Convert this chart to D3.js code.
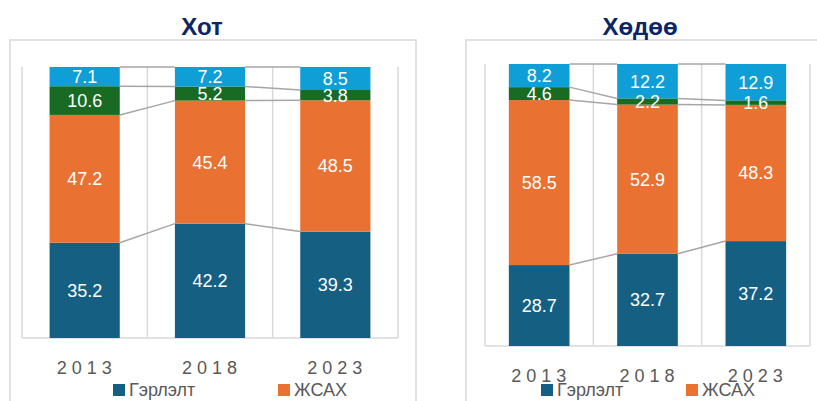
<!DOCTYPE html>
<html>
<head>
<meta charset="utf-8">
<script src="https://cdn.jsdelivr.net/npm/d3@7"></script>
<style>
  body { margin: 0; background: #fff; }
  svg { font-family: "Liberation Sans", Arial, sans-serif; }
</style>
</head>
<body>
<svg width="817" height="401"></svg>
<script>
// data
const years = ['2013', '2018', '2023'];
const seriesNames = ['Гэрлэлт', 'ЖСАХ', 'Салсан', 'Бэлэвсэн'];
const colors = ['#156082', '#E97132', '#196B24', '#0F9ED5'];

const hotMarried = [35.2, 42.2, 39.3];
const hotCohab = [47.2, 45.4, 48.5];
const hotGreen = [10.6, 5.2, 3.8];
const hotBlue = [7.1, 7.2, 8.5];

const hodooMarried = [28.7, 32.7, 37.2];
const hodooCohab = [58.5, 52.9, 48.3];
const hodooGreen = [4.6, 2.2, 1.6];
const hodooBlue = [8.2, 12.2, 12.9];

const svg = d3.select('svg');

function drawPanel(cfg) {
  const g = svg.append('g');
  const rows = years.map((y, i) => {
    const r = {year: y};
    cfg.values.forEach((arr, k) => r[seriesNames[k]] = arr[i]);
    return r;
  });
  const stacked = d3.stack().keys(seriesNames).offset(d3.stackOffsetExpand)(rows);

  const x = d3.scaleBand().domain(years).range(cfg.xr).paddingInner(0.44).paddingOuter(0.22);
  const y = d3.scaleLinear().domain([0, 1]).range(cfg.yr);

  // outer box
  g.append('rect')
    .attr('x', cfg.box[0]).attr('y', cfg.box[1])
    .attr('width', cfg.box[2]).attr('height', cfg.box[3])
    .attr('fill', 'none').attr('stroke', '#d9d9d9').attr('stroke-width', 1.5);

  // title
  g.append('text')
    .attr('x', cfg.titleX).attr('y', 35)
    .attr('text-anchor', 'middle')
    .attr('font-size', 24).attr('font-weight', 'bold')
    .attr('fill', '#0B2565')
    .text(cfg.title);

  // vertical gridlines at category boundaries
  d3.range(years.length + 1).forEach(i => {
    const gx = x.range()[0] + i * x.step();
    g.append('line')
      .attr('x1', gx).attr('x2', gx)
      .attr('y1', cfg.yr[1]).attr('y2', cfg.yr[0])
      .attr('stroke', '#d9d9d9').attr('stroke-width', 1.5);
  });
  g.append('line')
    .attr('x1', cfg.xr[0]).attr('x2', cfg.xr[1])
    .attr('y1', cfg.yr[0]).attr('y2', cfg.yr[0])
    .attr('stroke', '#d9d9d9').attr('stroke-width', 1.5);

  // bars
  stacked.forEach((s, k) => {
    g.selectAll('.bar' + k)
      .data(s)
      .enter()
      .append('rect')
      .attr('x', d => x(d.data.year))
      .attr('width', x.bandwidth())
      .attr('y', d => y(d[1]))
      .attr('height', d => y(d[0]) - y(d[1]))
      .attr('fill', colors[k]);
  });

  // series lines
  stacked.forEach(s => {
    for (let i = 0; i < s.length - 1; i++) {
      g.append('line')
        .attr('x1', x(years[i]) + x.bandwidth())
        .attr('x2', x(years[i + 1]))
        .attr('y1', y(s[i][1]))
        .attr('y2', y(s[i + 1][1]))
        .attr('stroke', '#a6a6a6').attr('stroke-width', 1.5);
    }
  });

  // labels
  stacked.forEach((s, k) => {
    g.selectAll('.lbl' + k)
      .data(s)
      .enter()
      .append('text')
      .attr('x', d => x(d.data.year) + x.bandwidth() / 2)
      .attr('y', d => (y(d[0]) + y(d[1])) / 2)
      .attr('dy', '0.36em')
      .attr('text-anchor', 'middle')
      .attr('font-size', 18)
      .attr('fill', '#fff')
      .text(d => d.data[seriesNames[k]].toFixed(1));
  });

  // category labels
  g.selectAll('.yr')
    .data(years)
    .enter()
    .append('text')
    .attr('x', d => x(d) + x.bandwidth() / 2 + 2)
    .attr('y', cfg.yearY)
    .attr('text-anchor', 'middle')
    .attr('font-size', 18)
    .attr('letter-spacing', 5)
    .attr('fill', '#595959')
    .text(d => d);

  // legend (only first row visible)
  cfg.legend.forEach((lx, k) => {
    g.append('rect')
      .attr('x', lx).attr('y', cfg.legendY - 12)
      .attr('width', 12).attr('height', 12)
      .attr('fill', colors[k]);
    g.append('text')
      .attr('x', lx + 16).attr('y', cfg.legendY)
      .attr('font-size', 18)
      .attr('fill', '#595959')
      .text(seriesNames[k]);
  });
}

drawPanel({
  title: 'Хот', titleX: 202,
  values: [hotMarried, hotCohab, hotGreen, hotBlue],
  xr: [22, 398], yr: [338, 67],
  box: [10, 40, 406, 400],
  yearY: 374, legendY: 396,
  legend: [113, 278]
});

drawPanel({
  title: 'Хөдөө', titleX: 640,
  values: [hodooMarried, hodooCohab, hodooGreen, hodooBlue],
  xr: [485, 810], yr: [346, 64],
  box: [466, 40, 400, 400],
  yearY: 382, legendY: 396,
  legend: [541, 686]
});
</script>
</body>
</html>
